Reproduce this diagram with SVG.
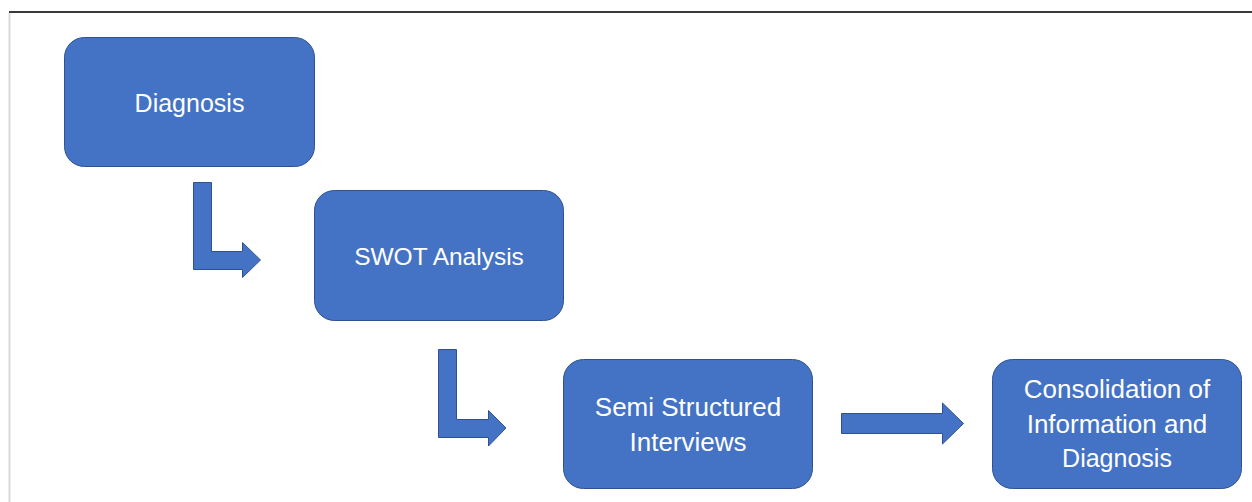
<svg xmlns="http://www.w3.org/2000/svg" width="1252" height="502" viewBox="0 0 1252 502">
  <style>
    .box { fill: #4472C4; stroke: #2F528F; stroke-width: 1; }
    .arrow { fill: #4472C4; stroke: #2F528F; stroke-width: 1; }
    .label { font-family: "Liberation Sans", Arial, sans-serif; font-size: 26px; fill: #FFFFFF; text-anchor: middle; }
    .short { font-size: 25px; }
  </style>
  <rect x="0" y="0" width="1252" height="502" fill="#FFFFFF"/>
  <!-- page frame -->
  <line x1="9" y1="12" x2="1252" y2="12" stroke="#3A3A3A" stroke-width="2"/>
  <line x1="9.5" y1="13" x2="9.5" y2="502" stroke="#D9D9D9" stroke-width="2"/>

  <g id="connectors">
    <polygon class="arrow" points="193.5,182.5 211.5,182.5 211.5,251.5 242.5,251.5 242.5,242.5 260.5,260 242.5,277.5 242.5,269.5 193.5,269.5"/>
    <polygon class="arrow" points="438.5,349.5 456.5,349.5 456.5,419.5 488.5,419.5 488.5,410.5 506,428 488.5,446 488.5,437.5 438.5,437.5"/>
    <polygon class="arrow" points="841.5,413.5 942.5,413.5 942.5,403 963.5,423.5 942.5,444 942.5,433.5 841.5,433.5"/>
  </g>

  <g id="diagnosis">
    <rect class="box" x="64.5" y="37.5" width="250" height="129" rx="20"/>
    <text class="label short" x="189.5" y="112">Diagnosis</text>
  </g>

  <g id="swot">
    <rect class="box" x="314.5" y="190.5" width="249" height="130" rx="20"/>
    <text class="label" x="439" y="265" font-size="24.5px" style="font-size:24.5px">SWOT Analysis</text>
  </g>

  <g id="interviews">
    <rect class="box" x="563.5" y="359.5" width="249" height="129" rx="20"/>
    <text class="label" x="688" y="416">Semi Structured</text>
    <text class="label" x="688" y="451">Interviews</text>
  </g>

  <g id="consolidation">
    <rect class="box" x="992.5" y="359.5" width="249" height="129" rx="20"/>
    <text class="label" x="1117" y="398">Consolidation of</text>
    <text class="label" x="1117" y="433">Information and</text>
    <text class="label short" x="1117" y="467">Diagnosis</text>
  </g>
</svg>
